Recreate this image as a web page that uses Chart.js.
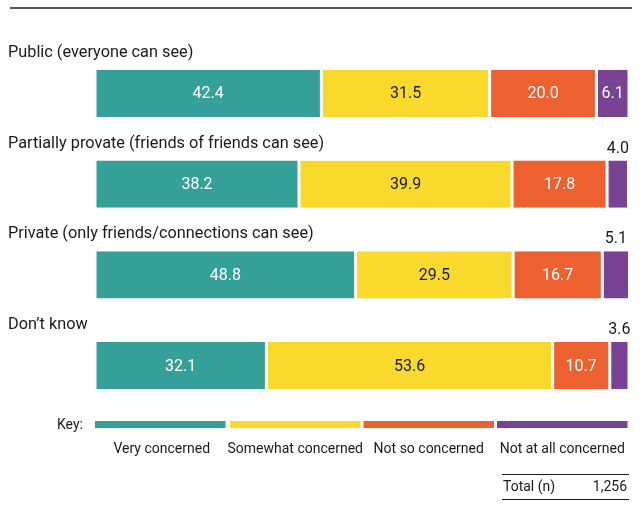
<!DOCTYPE html>
<html>
<head>
<meta charset="utf-8">
<script src="https://cdn.jsdelivr.net/npm/chart.js@4.4.0/dist/chart.umd.min.js"></script>
<style>
  body { margin: 0; background: #ffffff; }
  #concernChart { display: block; }
</style>
</head>
<body>
<canvas id="concernChart" width="643" height="508"></canvas>
<script>
const categories = [
    "Public (everyone can see)",
    "Partially provate (friends of friends can see)",
    "Private (only friends/connections can see)",
    "Don\u2019t know"
];
const seriesNames = ["Very concerned", "Somewhat concerned", "Not so concerned", "Not at all concerned"];
const veryConcerned = [42.4, 38.2, 48.8, 32.1];
const somewhatConcerned = [31.5, 39.9, 29.5, 53.6];
const notSoConcerned = [20.0, 17.8, 16.7, 10.7];
const notAtAllConcerned = [6.1, 4.0, 5.1, 3.6];
const totalLabel = "Total (n)";
const totalValue = "1,256";

const colors = ["#35a097", "#f9da2c", "#ed6131", "#774392"];
const valueColors = ["#ffffff", "#1a1a1a", "#ffffff", "#ffffff"];
const textColor = "#1a1a1a";
const fontFamily = "Roboto, 'DejaVu Sans', sans-serif";

const canvas = document.getElementById("concernChart");
const ctx = canvas.getContext("2d");

const allSeries = [veryConcerned, somewhatConcerned, notSoConcerned, notAtAllConcerned];

// draws row titles, value labels, the key and the total box
const annotatePlugin = {
    id: "annotate",
    afterDatasetsDraw(chart) {
        const c = chart.ctx;
        const area = chart.chartArea;
        c.save();

        // top rule
        c.strokeStyle = "#1a1a1a";
        c.lineWidth = 1.5;
        c.beginPath();
        c.moveTo(10, 8);
        c.lineTo(632, 8);
        c.stroke();

        // row titles
        const firstMeta = chart.getDatasetMeta(0);
        c.fillStyle = textColor;
        c.font = "16.3px " + fontFamily;
        c.textAlign = "left";
        c.textBaseline = "middle";
        firstMeta.data.forEach((bar, i) => {
            const top = bar.y - bar.height / 2;
            c.fillText(categories[i], 8, top - 17);
        });

        // value labels
        c.font = "16px " + fontFamily;
        c.textAlign = "center";
        allSeries.forEach((series, d) => {
            const meta = chart.getDatasetMeta(d);
            meta.data.forEach((bar, i) => {
                const txt = series[i].toFixed(1);
                const left = Math.min(bar.x, bar.base);
                const w = Math.abs(bar.x - bar.base);
                const cx = left + w / 2;
                const tw = c.measureText(txt).width;
                if (w > tw + 8) {
                    c.fillStyle = valueColors[d];
                    c.fillText(txt, cx, bar.y + 1);
                } else {
                    c.fillStyle = textColor;
                    c.fillText(txt, cx, bar.y - bar.height / 2 - 12);
                }
            });
        });

        // key
        c.font = "14px " + fontFamily;
        c.fillStyle = textColor;
        c.textAlign = "left";
        c.fillText("Key:", 57, 425);
        const keyW = (area.right - area.left) / seriesNames.length;
        seriesNames.forEach((name, d) => {
            const x0 = area.left + d * keyW;
            c.fillStyle = colors[d];
            c.fillRect(x0 + (d > 0 ? 1.5 : 0), 421, keyW - 3, 7);
            c.fillStyle = textColor;
            c.textAlign = "center";
            c.fillText(name, x0 + keyW / 2, 449);
        });

        // total box
        c.strokeStyle = "#1a1a1a";
        c.lineWidth = 1;
        c.beginPath();
        c.moveTo(502, 474.5);
        c.lineTo(629, 474.5);
        c.moveTo(502, 499.5);
        c.lineTo(629, 499.5);
        c.stroke();
        c.textAlign = "left";
        c.fillText(totalLabel, 503, 487);
        c.textAlign = "right";
        c.fillText(totalValue, 627, 487);

        c.restore();
    }
};

const chart = new Chart(ctx, {
    type: "bar",
    data: {
        labels: categories,
        datasets: seriesNames.map((name, d) => ({
            label: name,
            data: allSeries[d],
            backgroundColor: colors[d],
            borderColor: "#ffffff",
            borderWidth: { left: 1.5, right: 1.5, top: 0, bottom: 0 },
            borderSkipped: false,
            barPercentage: 0.52,
            categoryPercentage: 1.0
        }))
    },
    options: {
        indexAxis: "y",
        responsive: false,
        animation: false,
        layout: {
            padding: { left: 95, right: 14, top: 48, bottom: 97 }
        },
        plugins: {
            legend: { display: false },
            tooltip: { enabled: false }
        },
        scales: {
            x: {
                stacked: true,
                min: 0,
                max: 100,
                display: false
            },
            y: {
                stacked: true,
                display: false
            }
        }
    },
    plugins: [annotatePlugin]
});
</script>
</body>
</html>
